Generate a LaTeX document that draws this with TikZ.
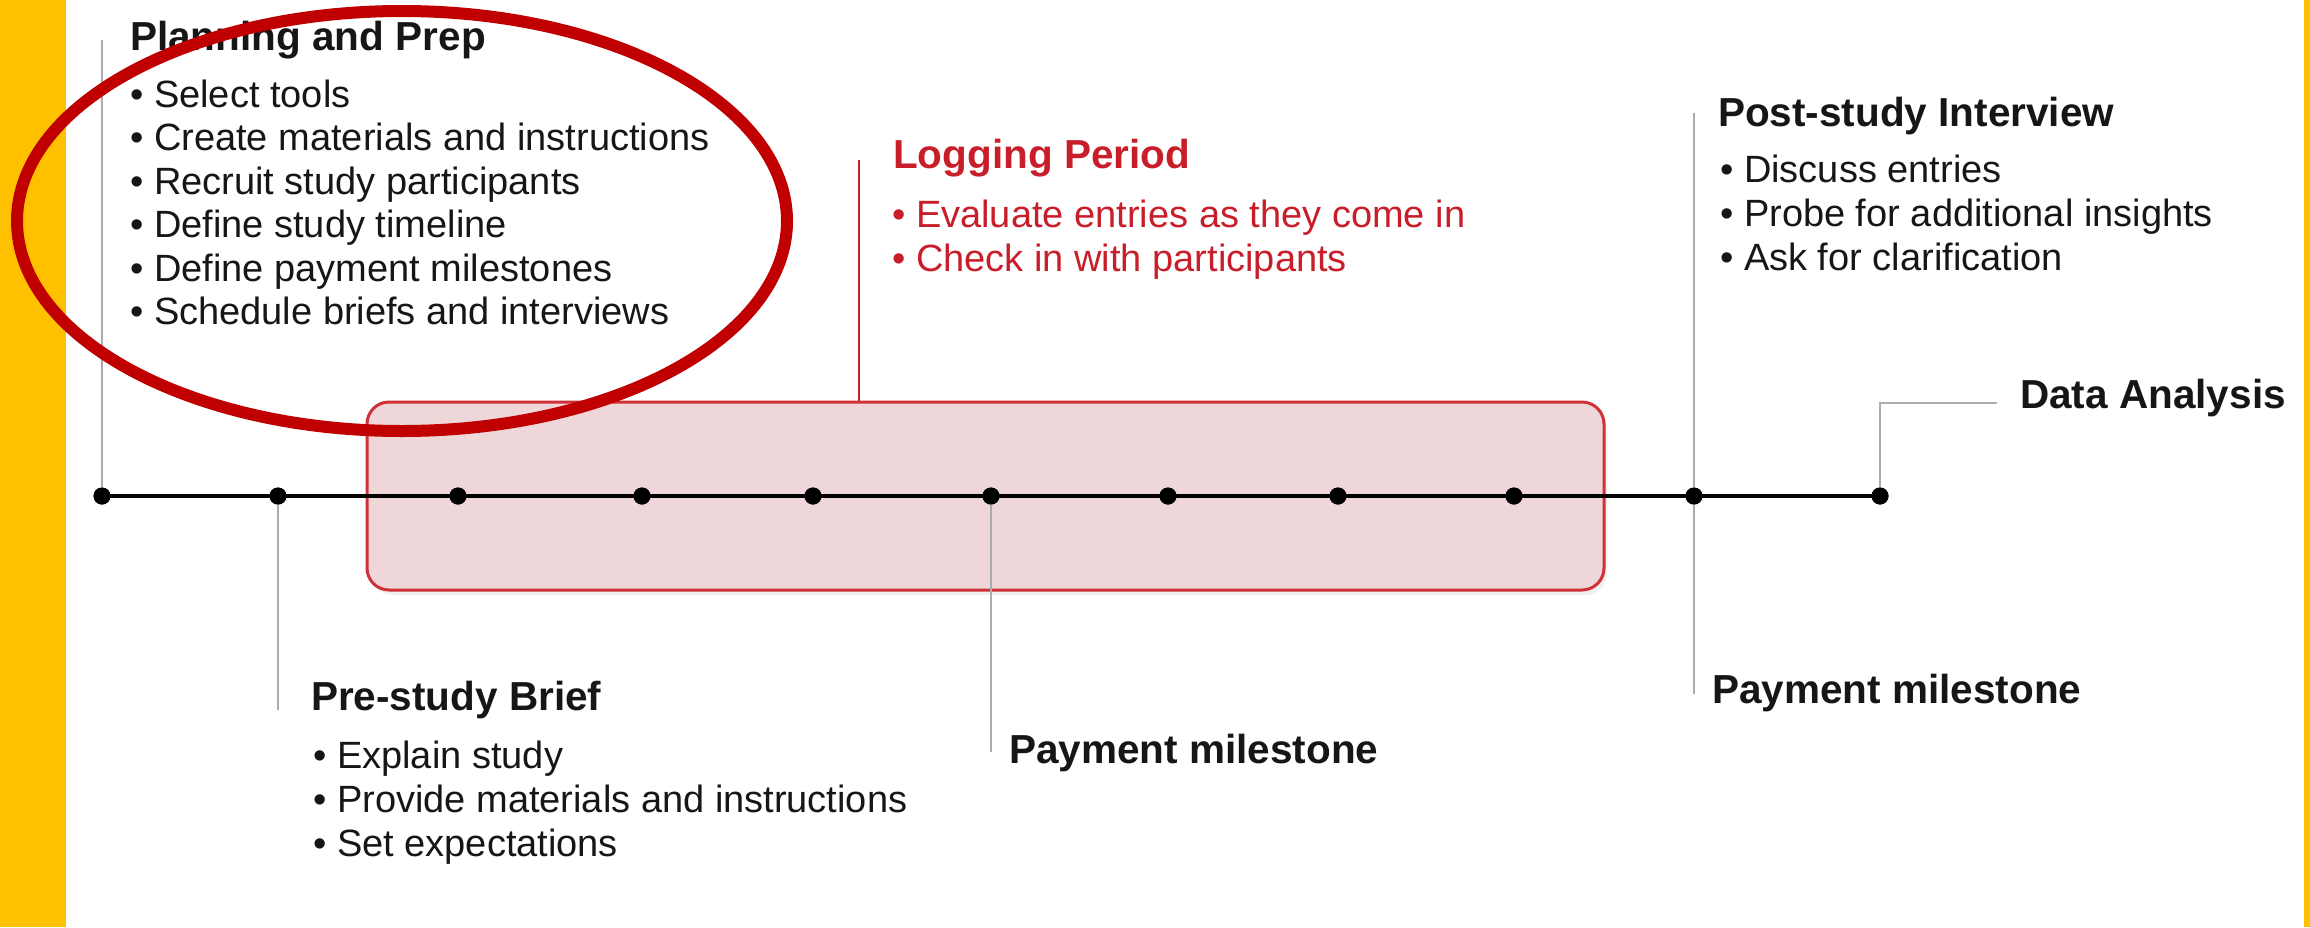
\documentclass[tikz,border=0pt]{standalone}
\usepackage{fontspec}
\setmainfont{Liberation Sans}
\usetikzlibrary{shadows}

\definecolor{barYellow}{RGB}{255,192,0}
\definecolor{logRed}{RGB}{200,30,42}
\definecolor{logFill}{RGB}{239,215,217}
\definecolor{logEdge}{RGB}{208,48,56}
\definecolor{ringRed}{RGB}{192,0,0}
\definecolor{stemGray}{RGB}{172,172,172}
\definecolor{ink}{RGB}{22,22,22}

\begin{document}
\begin{tikzpicture}[x=1pt,y=-1pt,
	dot/.style={draw=none,circle,fill=black,minimum size=17pt,inner sep=0pt},
	head/.style={anchor=base west,inner sep=0pt,text=ink,font=\fontsize{40.5}{48}\selectfont\bfseries},
	item/.style={anchor=base west,inner sep=0pt,text=ink,font=\fontsize{38}{44}\selectfont},
	loghead/.style={head,text=logRed},
	logitem/.style={item,text=logRed},
	stem/.style={draw=stemGray,line width=2pt},
	logstem/.style={draw=logRed,line width=2.5pt},
	timeline/.style={draw=black,line width=3.5pt},
	logbox/.style={draw=logEdge,line width=3pt,fill=logFill,rectangle,rounded corners=22pt,
		minimum width=1237pt,minimum height=188pt,
		drop shadow={opacity=0.12,shadow xshift=3pt,shadow yshift=-5pt}},
	ring/.style={draw=ringRed,line width=12pt}]
			\useasboundingbox (0,0) rectangle (2310,927);
			\fill[barYellow] (0,0) rectangle (66,927);
			\fill[barYellow] (2304,0) rectangle (2310,927);
			% logging period box
			\node[logbox] (logbox)at(985.5,496) {};
			% timeline dots
			\node[dot] (d1)at(102,496) {};
			\node[dot] (d2)at(278,496) {};
			\node[dot] (d3)at(458,496) {};
			\node[dot] (d4)at(642,496) {};
			\node[dot] (d5)at(813,496) {};
			\node[dot] (d6)at(991,496) {};
			\node[dot] (d7)at(1168,496) {};
			\node[dot] (d8)at(1338,496) {};
			\node[dot] (d9)at(1514,496) {};
			\node[dot] (d10)at(1694,496) {};
			\node[dot] (d11)at(1880,496) {};
			\coordinate (planTop)at(102,40);
			\coordinate (preEnd)at(278,710);
			\coordinate (payMidEnd)at(991,752);
			\coordinate (postTop)at(1694,113);
			\coordinate (postEnd)at(1694,694);
			\coordinate (logTop)at(859,160);
			\coordinate (dataEnd)at(1997,403);
			\draw[stem] (d1.center) -- (planTop);
			\draw[stem] (d2.center) -- (preEnd);
			\draw[stem] (d6.center) -- (payMidEnd);
			\draw[stem] (postTop) -- (postEnd);
			\draw[stem] (d11.center) |- (dataEnd);
			\draw[logstem] (logTop) -- (logTop |- logbox.north);
			\draw[timeline] (d1.center) -- (d11.center);
			\node[dot] at (d1) {};
			\node[dot] at (d2) {};
			\node[dot] at (d3) {};
			\node[dot] at (d4) {};
			\node[dot] at (d5) {};
			\node[dot] at (d6) {};
			\node[dot] at (d7) {};
			\node[dot] at (d8) {};
			\node[dot] at (d9) {};
			\node[dot] at (d10) {};
			\node[dot] at (d11) {};
			% planning and prep
			\node[head] (plan)at(130,50) {Planning and Prep};
			\node[item] (plan1)at(130,107) {• Select tools};
			\node[item] (plan2)at(130,150) {• Create materials and instructions};
			\node[item] (plan3)at(130,194) {• Recruit study participants};
			\node[item] (plan4)at(130,237) {• Define study timeline};
			\node[item] (plan5)at(130,281) {• Define payment milestones};
			\node[item] (plan6)at(130,324) {• Schedule briefs and interviews};
			% logging period
			\node[loghead] (log)at(893,168) {Logging Period};
			\node[logitem] (log1)at(892,227) {• Evaluate entries as they come in};
			\node[logitem] (log2)at(892,271) {• Check in with participants};
			% post-study interview
			\node[head] (post)at(1718,126) {Post-study Interview};
			\node[item] (post1)at(1720,182) {• Discuss entries};
			\node[item] (post2)at(1720,226) {• Probe for additional insights};
			\node[item] (post3)at(1720,270) {• Ask for clarification};
			% pre-study brief
			\node[head] (pre)at(311,710) {Pre-study Brief};
			\node[item] (pre1)at(313,768) {• Explain study};
			\node[item] (pre2)at(313,812) {• Provide materials and instructions};
			\node[item] (pre3)at(313,856) {• Set expectations};
			% milestones and analysis
			\node[head] (payMid)at(1009,763) {Payment milestone};
			\node[head] (payEnd)at(1712,703) {Payment milestone};
			\node[head] (data)at(2020,408) {Data Analysis};
			% highlight ring
			\draw[ring] (402,221) ellipse [x radius=385,y radius=210];
\end{tikzpicture}
\end{document}
